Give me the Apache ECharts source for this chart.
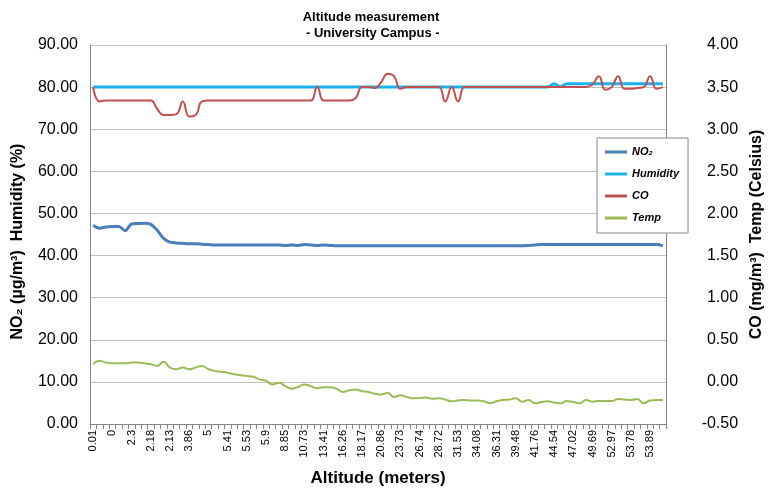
<!DOCTYPE html>
<html>
<head>
<meta charset="utf-8">
<script src="https://cdn.jsdelivr.net/npm/echarts@6/dist/echarts.min.js"></script>
<style>
html,body{margin:0;padding:0;background:#fff;}
#chart{width:773px;height:493px;}
</style>
</head>
<body>
<div id="chart"></div>
<script>
// Altitude tick labels (every 3rd category is labelled)
const tickLabels = ['0.01','0','2.3','2.18','2.13','3.86','5','5.41','5.53','5.9','8.85','10.73','13.41','16.26','18.17','20.86','23.73','26.74','28.72','31.53','34.08','36.31','39.48','41.76','44.54','47.02','49.69','52.97','53.78','53.89'];
const categoryCount = 90;

const no2 = [47.2,46.5,46.8,46.9,46.9,45.9,47.5,47.6,47.7,47.4,
  46.0,44.1,43.2,43.0,42.9,42.8,42.8,42.7,42.6,42.5,
  42.5,42.5,42.5,42.5,42.5,42.5,42.5,42.5,42.5,42.5,
  42.4,42.5,42.4,42.6,42.5,42.4,42.5,42.4,42.3,42.3,
  42.3,42.3,42.3,42.3,42.3,42.3,42.3,42.3,42.3,42.3,
  42.3,42.3,42.3,42.3,42.3,42.3,42.3,42.3,42.3,42.3,
  42.3,42.3,42.3,42.3,42.3,42.3,42.3,42.3,42.4,42.5,
  42.6,42.6,42.6,42.6,42.6,42.6,42.6,42.6,42.6,42.6,
  42.6,42.6,42.6,42.6,42.6,42.6,42.6,42.6,42.6,42.3];

const humidity = [80,80,80,80,80,80,80,80,80,80,
  80,80,80,80,80,80,80,80,80,80,
  80,80,80,80,80,80,80,80,80,80,
  80,80,80,80,80,80,80,80,80,80,
  80,80,80,80,80,80,80,80,80,80,
  80,80,80,80,80,80,80,80,80,80,
  80,80,80,80,80,80,80,80,80,80,
  80,80,80.8,80.1,80.8,80.8,80.8,80.8,80.8,80.8,
  80.8,80.8,80.8,80.8,80.8,80.8,80.8,80.8,80.8,80.8];

const co = [3.50,3.33,3.34,3.34,3.34,3.34,3.34,3.34,3.34,3.34,
  3.24,3.17,3.17,3.18,3.33,3.15,3.17,3.33,3.34,3.34,
  3.34,3.34,3.34,3.34,3.34,3.34,3.34,3.34,3.34,3.34,
  3.34,3.34,3.34,3.34,3.34,3.50,3.34,3.34,3.34,3.34,
  3.34,3.37,3.50,3.50,3.49,3.56,3.66,3.63,3.48,3.50,
  3.50,3.50,3.50,3.50,3.50,3.33,3.50,3.33,3.50,3.50,
  3.50,3.50,3.50,3.50,3.50,3.50,3.50,3.50,3.50,3.50,
  3.50,3.50,3.50,3.50,3.50,3.50,3.50,3.50,3.53,3.63,
  3.47,3.50,3.63,3.48,3.48,3.49,3.50,3.63,3.48,3.50];

const temp = [0.21,0.25,0.23,0.22,0.22,0.22,0.23,0.23,0.22,0.21,
  0.19,0.24,0.17,0.15,0.17,0.15,0.17,0.19,0.15,0.13,
  0.12,0.11,0.09,0.08,0.07,0.06,0.03,0.015,-0.03,-0.01,
  -0.05,-0.08,-0.06,-0.03,-0.05,-0.075,-0.065,-0.065,-0.08,-0.12,
  -0.10,-0.09,-0.11,-0.12,-0.14,-0.15,-0.13,-0.18,-0.16,-0.18,
  -0.195,-0.19,-0.185,-0.20,-0.195,-0.21,-0.23,-0.22,-0.215,-0.22,
  -0.22,-0.23,-0.255,-0.23,-0.215,-0.21,-0.195,-0.235,-0.215,-0.255,
  -0.24,-0.23,-0.245,-0.255,-0.227,-0.24,-0.255,-0.215,-0.235,-0.227,
  -0.227,-0.227,-0.203,-0.21,-0.215,-0.203,-0.254,-0.222,-0.215,-0.215];

const categories = Array.from({length: categoryCount}, (_, i) => String(i));

const chart = echarts.init(document.getElementById('chart'));
const axisGray = '#868686';
const font = 'Liberation Sans, Arial, sans-serif';
chart.setOption({
  animation: false,
  backgroundColor: '#fff',
  textStyle: {fontFamily: font},
  title: {
    text: 'Altitude measurement\n - University Campus -',
    left: 366,
    top: 4,
    textAlign: 'center',
    textStyle: {fontFamily: font, fontSize: 13, fontWeight: 'bold', color: '#000', lineHeight: 16}
  },
  legend: {
    orient: 'vertical',
    left: 597,
    top: 138,
    backgroundColor: '#fff',
    borderColor: '#868686',
    borderWidth: 1,
    padding: [7, 9, 8, 8],
    itemGap: 8,
    itemWidth: 22,
    itemHeight: 3,
    icon: 'rect',
    textStyle: {fontFamily: font, fontSize: 11, fontWeight: 'bold', fontStyle: 'italic', color: '#000', lineHeight: 14},
    data: ['NO₂', 'Humidity', 'CO', 'Temp']
  },
  grid: {left: 90, right: 88, top: 45, bottom: 69, containLabel: false},
  xAxis: {
    type: 'category',
    data: categories,
    boundaryGap: true,
    name: 'Altitude (meters)',
    nameLocation: 'middle',
    nameGap: 46,
    nameTextStyle: {fontFamily: font, fontSize: 17, fontWeight: 'bold', color: '#000'},
    axisLine: {lineStyle: {color: axisGray, width: 1}},
    axisTick: {show: true, interval: 0, length: 5, lineStyle: {color: axisGray}},
    axisLabel: {
      interval: 2,
      rotate: 90,
      margin: 6,
      fontSize: 11,
      color: '#000',
      formatter: (v, i) => (i % 3 === 0 ? tickLabels[i / 3] : '')
    },
    splitLine: {show: false}
  },
  yAxis: [
    {
      type: 'value',
      min: 0, max: 90, interval: 10,
      position: 'left',
      name: 'NO₂ (µg/m³)  Humidity (%)',
      nameLocation: 'middle',
      nameRotate: 90,
      nameGap: 64,
      nameTextStyle: {fontFamily: font, fontSize: 16, fontWeight: 'bold', color: '#000', padding: [0, 14, 0, 0]},
      axisLine: {show: true, lineStyle: {color: axisGray}},
      axisTick: {show: false},
      axisLabel: {fontSize: 16, color: '#000', margin: 12, formatter: v => v.toFixed(2)},
      splitLine: {show: true, lineStyle: {color: '#c0c0c0', width: 1}}
    },
    {
      type: 'value',
      min: -0.5, max: 4, interval: 0.5,
      position: 'right',
      name: 'CO (mg/m³)  Temp (Celsius)',
      nameLocation: 'middle',
      nameRotate: 90,
      nameGap: 75,
      nameTextStyle: {fontFamily: font, fontSize: 16, fontWeight: 'bold', color: '#000'},
      axisLine: {show: true, lineStyle: {color: axisGray}},
      axisTick: {show: false},
      axisLabel: {fontSize: 16, color: '#000', margin: 72, align: 'right', formatter: v => v.toFixed(2)},
      splitLine: {show: false}
    }
  ],
  series: [
    {name: 'NO₂', type: 'line', yAxisIndex: 0, data: no2, showSymbol: false, smooth: 0.3,
      lineStyle: {color: '#4a7ebb', width: 3}, itemStyle: {color: '#4a7ebb'}},
    {name: 'Humidity', type: 'line', yAxisIndex: 0, data: humidity, showSymbol: false, smooth: 0.3,
      lineStyle: {color: '#1ab2ee', width: 3}, itemStyle: {color: '#1ab2ee'}},
    {name: 'CO', type: 'line', yAxisIndex: 1, data: co, showSymbol: false, smooth: 0.5,
      lineStyle: {color: '#c0504d', width: 2}, itemStyle: {color: '#c0504d'}},
    {name: 'Temp', type: 'line', yAxisIndex: 1, data: temp, showSymbol: false, smooth: 0.5,
      lineStyle: {color: '#9bbb59', width: 2}, itemStyle: {color: '#9bbb59'}}
  ]
});
</script>
</body>
</html>
